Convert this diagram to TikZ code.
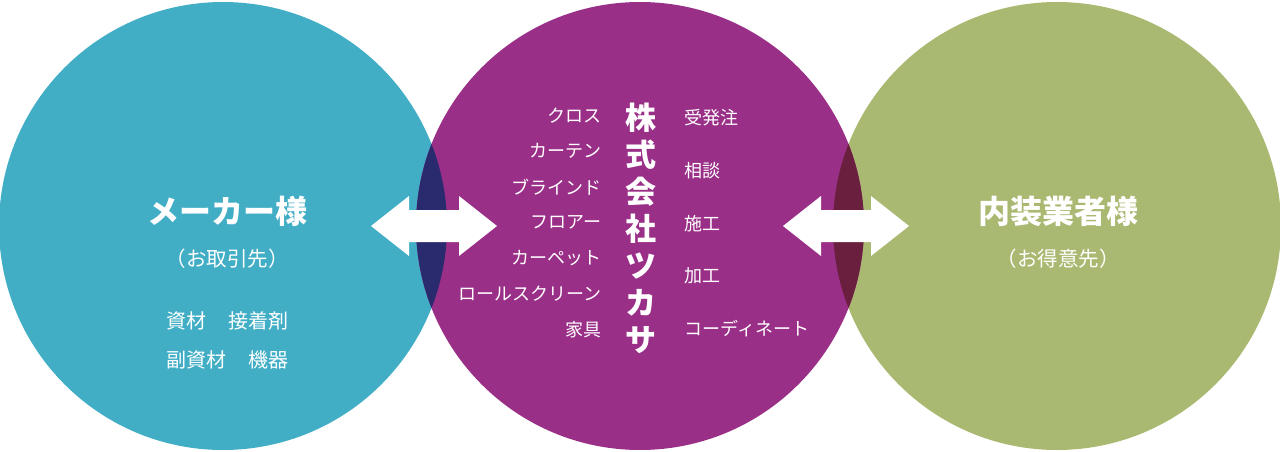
\documentclass[tikz,border=0pt]{standalone}
\usepackage{fontspec}
\setmainfont{Noto Sans CJK JP}
\usetikzlibrary{positioning, calc}
\definecolor{makercol}{HTML}{41AEC6}
\definecolor{tsukasacol}{HTML}{9A2F88}
\definecolor{clientcol}{HTML}{AAB972}
\definecolor{lapone}{HTML}{2A2A6E}
\definecolor{laptwo}{HTML}{6A1F3F}
\tikzset{
  title/.style={text=white, font=\fontsize{32}{34}\selectfont\bfseries},
  sub/.style={text=white, font=\fontsize{20.5}{22}\selectfont},
  item/.style={text=white, font=\fontsize{18}{20}\selectfont},
  makeritem/.style={text=white, font=\fontsize{20}{22}\selectfont},
  vchar/.style={text=white, font=\fontsize{31}{32}\selectfont\bfseries},
}
\newcommand{\DBLARROW}[1]{\fill[white] ($ (#1) + (-88,0) $) -- ($ (#1) + (-50,-30) $) -- ($ (#1) + (-50,-16) $) -- ($ (#1) + (0,-16) $) -- ($ (#1) + (0,-30) $) -- ($ (#1) + (38,0) $) -- ($ (#1) + (0,30) $) -- ($ (#1) + (0,16) $) -- ($ (#1) + (-50,16) $) -- ($ (#1) + (-50,30) $) -- cycle;}
\begin{document}
\begin{tikzpicture}[x=1pt,y=-1pt]
	\useasboundingbox (0,0) rectangle (1280,452);
	
	\coordinate (maker) at (223,226);
	\coordinate (tsukasa) at (640,226);
	\coordinate (client) at (1057,226);
	
	\fill[makercol] (maker) circle (224);
	\fill[clientcol] (client) circle (224);
	\fill[tsukasacol] (tsukasa) circle (224);
	\begin{scope}
		\clip (maker) circle (224);
		\fill[lapone] (tsukasa) circle (224);
	\end{scope}
	\begin{scope}
		\clip (client) circle (224);
		\fill[laptwo] (tsukasa) circle (224);
	\end{scope}
	
	\coordinate (arrowL) at (459,226);
	\coordinate (arrowR) at (871,226);
	\DBLARROW{arrowL}
	\DBLARROW{arrowR}
	
	% left circle
	\node[title] (makername) at (227,211) {メーカー様};
	\node[sub] (makersub) at (227,259) {（お取引先）};
	\node[makeritem] (makerA) at (227,321) {資材\hspace{1.1em}接着剤};
	\node[makeritem] (makerB) at (227,360) {副資材\hspace{1.1em}機器};
	
	% right circle
	\node[title] (clientname) at (1058,211) {内装業者様};
	\node[sub] (clientsub) at (1058,259) {（お得意先）};
	
	% middle circle
	\foreach \ch [count=\i] in {株,式,会,社,ツ,カ,サ}
		\node[vchar] (corp\i) at (641,{81+37*\i}) {\ch};
	
	\foreach \txt [count=\i] in {クロス,カーテン,ブラインド,フロアー,カーペット,ロールスクリーン,家具}
		\node[item, anchor=east] (goods\i) at (605,{80+35.6*\i}) {\txt};
	
	\foreach \txt [count=\i] in {受発注,相談,施工,加工,コーディネート}
		\node[item, anchor=west] (service\i) at (681,{65+52.8*\i}) {\txt};
	
\end{tikzpicture}
\end{document}
